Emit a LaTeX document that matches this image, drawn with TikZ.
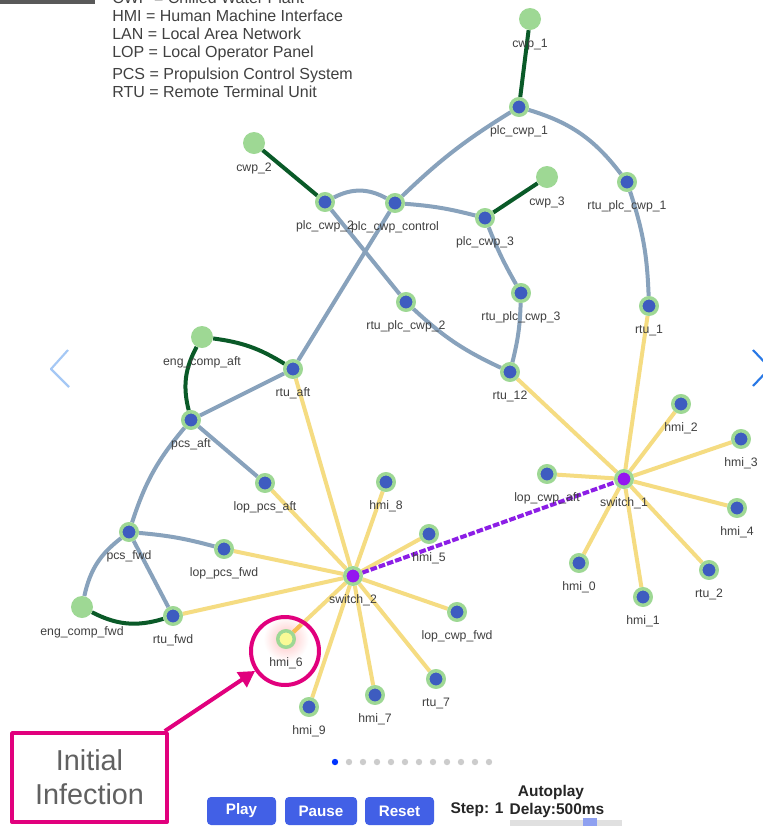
\documentclass[tikz,border=0pt]{standalone}
\usepackage{fontspec}
\setmainfont{Liberation Sans}
\usepackage{tikz}
\usetikzlibrary{arrows.meta,backgrounds}
\definecolor{ringgreen}{RGB}{158,216,148}
\definecolor{devblue}{RGB}{62,92,192}
\definecolor{switchcolor}{RGB}{148,22,240}
\definecolor{linkcolor}{RGB}{136,162,188}
\definecolor{plantcolor}{RGB}{10,90,40}
\definecolor{lancolor}{RGB}{245,220,130}
\definecolor{wancolor}{RGB}{140,30,230}
\definecolor{markcolor}{RGB}{225,0,125}
\definecolor{textgray}{RGB}{64,64,64}
\definecolor{btncolor}{RGB}{66,96,230}
\definecolor{prevcolor}{RGB}{165,200,245}
\definecolor{nextcolor}{RGB}{40,120,230}

\begin{document}
\begin{tikzpicture}[x=0.75pt,y=-0.75pt,line join=round,
                    every label/.style={font=\fontsize{9.2}{10}\selectfont,text=textgray,
                                        inner sep=0pt,text height=13pt,text depth=2pt}]
  \tikzstyle{dev}=[circle,inner sep=0pt,minimum size=12.4pt,line width=2.6pt,
                   draw=ringgreen,fill=devblue]
  \tikzstyle{switch}=[dev,fill=switchcolor]
  \tikzstyle{infected}=[dev,fill={rgb,255:red,250;green,250;blue,150}]
  \tikzstyle{plant}=[circle,inner sep=0pt,minimum size=16.5pt,fill=ringgreen]
  \tikzstyle{link}=[draw=linkcolor,line width=3pt]
  \tikzstyle{pipe}=[draw=plantcolor,line width=3pt]
  \tikzstyle{lan}=[draw=lancolor,line width=3pt]
  \tikzstyle{legend}=[anchor=base west,inner sep=0pt,font=\fontsize{12}{14}\selectfont,text=textgray]
  \tikzstyle{button}=[fill=btncolor,rounded corners=3pt,text=white,inner sep=0pt,
                      font=\bfseries\fontsize{11.4}{13}\selectfont,minimum height=21pt]
  \tikzstyle{ctrl}=[inner sep=0pt,font=\bfseries\fontsize{11.6}{13}\selectfont,text=black!85]

  \useasboundingbox (0,0) rectangle (763,826);
  \clip (0,0) rectangle (763,826);

  % abbreviations
  \fill[black!65] (0,0) rectangle (95,3.5);
  \node[legend] (leg_cwp) at (112,3)  {CWP = Chilled Water Plant};
  \node[legend] (leg_hmi) at (112,21) {HMI = Human Machine Interface};
  \node[legend] (leg_lan) at (112,39) {LAN = Local Area Network};
  \node[legend] (leg_lop) at (112,57) {LOP = Local Operator Panel};
  \node[legend] (leg_pcs) at (112,79) {PCS = Propulsion Control System};
  \node[legend] (leg_rtu) at (112,97) {RTU = Remote Terminal Unit};

  % plant
  \node[plant,label=below:cwp\_1]        (cwp_1)        at (530,19)  {};
  \node[plant,label=below:cwp\_2]        (cwp_2)        at (254,143) {};
  \node[plant,label=below:cwp\_3]        (cwp_3)        at (547,177) {};
  \node[plant,label=below:eng\_comp\_aft] (eng_comp_aft) at (202,337) {};
  \node[plant,label=below:eng\_comp\_fwd] (eng_comp_fwd) at (82,607)  {};

  % controllers
  \node[dev,label=below:plc\_cwp\_1]       (plc_cwp_1)       at (519,107) {};
  \node[dev,label=below:plc\_cwp\_2]       (plc_cwp_2)       at (325,202) {};
  \node[dev,label=below:plc\_cwp\_control] (plc_cwp_control) at (395,203) {};
  \node[dev,label=below:plc\_cwp\_3]       (plc_cwp_3)       at (485,218) {};
  \node[dev,label=below:rtu\_plc\_cwp\_1]  (rtu_plc_cwp_1)   at (627,182) {};
  \node[dev,label=below:rtu\_plc\_cwp\_2]  (rtu_plc_cwp_2)   at (406,302) {};
  \node[dev,label=below:rtu\_plc\_cwp\_3]  (rtu_plc_cwp_3)   at (521,293) {};
  \node[dev,label=below:rtu\_1]           (rtu_1)           at (649,306) {};
  \node[dev,label=below:rtu\_12]          (rtu_12)          at (510,372) {};
  \node[dev,label=below:rtu\_aft]         (rtu_aft)         at (293,369) {};
  \node[dev,label=below:pcs\_aft]         (pcs_aft)         at (191,420) {};
  \node[dev,label=below:lop\_pcs\_aft]    (lop_pcs_aft)     at (265,483) {};
  \node[dev,label=below:pcs\_fwd]         (pcs_fwd)         at (129,532) {};
  \node[dev,label=below:lop\_pcs\_fwd]    (lop_pcs_fwd)     at (224,549) {};
  \node[dev,label=below:rtu\_fwd]         (rtu_fwd)         at (173,616) {};

  % switch_2 side
  \node[switch,label=below:switch\_2]     (switch_2)        at (353,576) {};
  \node[dev,label=below:hmi\_8]           (hmi_8)           at (386,482) {};
  \node[dev,label=below:hmi\_5]           (hmi_5)           at (429,534) {};
  \node[dev,label=below:lop\_cwp\_fwd]    (lop_cwp_fwd)     at (457,612) {};
  \node[dev,label=below:rtu\_7]           (rtu_7)           at (436,679) {};
  \node[dev,label=below:hmi\_7]           (hmi_7)           at (375,695) {};
  \node[dev,label=below:hmi\_9]           (hmi_9)           at (309,707) {};
  \node[infected,label=below:hmi\_6]      (hmi_6)           at (286,639) {};

  % switch_1 side
  \node[switch,label=below:switch\_1]     (switch_1)        at (624,479) {};
  \node[dev,label=below:lop\_cwp\_aft]    (lop_cwp_aft)     at (547,474) {};
  \node[dev,label=below:hmi\_2]           (hmi_2)           at (681,404) {};
  \node[dev,label=below:hmi\_3]           (hmi_3)           at (741,439) {};
  \node[dev,label=below:hmi\_4]           (hmi_4)           at (737,508) {};
  \node[dev,label=below:rtu\_2]           (rtu_2)           at (709,570) {};
  \node[dev,label=below:hmi\_1]           (hmi_1)           at (643,597) {};
  \node[dev,label=below:hmi\_0]           (hmi_0)           at (579,563) {};

  \begin{scope}[on background layer]
    \fill[white] (0,0) rectangle (763,826);
    \shade[inner color=red!25,outer color=white] (hmi_6) circle (17pt);

    \path (cwp_1) edge[pipe] (plc_cwp_1)
          (cwp_2) edge[pipe] (plc_cwp_2)
          (cwp_3) edge[pipe] (plc_cwp_3)
          (eng_comp_aft) edge[pipe,bend left=12]  (rtu_aft)
          (eng_comp_aft) edge[pipe,bend right=21] (pcs_aft)
          (eng_comp_fwd) edge[pipe,bend right=22] (rtu_fwd);

    \path (plc_cwp_1) edge[link,bend left=18] (rtu_plc_cwp_1)
          (rtu_plc_cwp_1) edge[link,bend left=8] (rtu_1)
          (plc_cwp_1) edge[link,bend right=6] (plc_cwp_control)
          (plc_cwp_control) edge[link] (rtu_aft)
          (plc_cwp_2) edge[link,bend left=28] (plc_cwp_control)
          (plc_cwp_control) edge[link,bend left=5] (plc_cwp_3)
          (plc_cwp_2) edge[link] (rtu_plc_cwp_2)
          (rtu_plc_cwp_2) edge[link,bend right=9] (rtu_12)
          (plc_cwp_3) edge[link,bend right=4] (rtu_plc_cwp_3)
          (rtu_plc_cwp_3) edge[link,bend left=6] (rtu_12)
          (rtu_aft) edge[link] (pcs_aft)
          (pcs_aft) edge[link] (lop_pcs_aft)
          (pcs_aft) edge[link,bend right=11] (pcs_fwd)
          (pcs_fwd) edge[link,bend right=20] (eng_comp_fwd)
          (pcs_fwd) edge[link] (rtu_fwd)
          (pcs_fwd) edge[link,bend left=5] (lop_pcs_fwd);

    \foreach \dev in {rtu_aft,lop_pcs_aft,hmi_8,hmi_5,lop_pcs_fwd,rtu_fwd,hmi_6,hmi_9,hmi_7,rtu_7,lop_cwp_fwd}
      \path (switch_2) edge[lan] (\dev);
    \foreach \dev in {rtu_1,rtu_12,lop_cwp_aft,hmi_2,hmi_3,hmi_4,rtu_2,hmi_1,hmi_0}
      \path (switch_1) edge[lan] (\dev);
    \path (hmi_6) edge[draw=orange!35!lancolor,line width=3pt,shorten >=46pt] (switch_2);

    \path (switch_2) edge[draw=wancolor,line width=3pt,dash pattern=on 5pt off 1.5pt] (switch_1);
  \end{scope}

  % initial infection
  \node[circle,draw=markcolor,line width=3pt,minimum size=51pt] (ring) at (285,651) {};
  \node[draw=markcolor,line width=3pt,minimum width=116pt,minimum height=66.7pt,align=center,
        font=\fontsize{21.6}{25.5}\selectfont,text=black!62] (callout) at (89.5,777.5) {Initial\\Infection};
  \draw[markcolor,line width=3pt,-{Triangle[length=12pt,width=13pt]}] ([xshift=-3pt]callout.north east) -- (ring);

  % carousel
  \draw[line width=1.6pt,prevcolor] (68,350) -- (51,369) -- (69,387);
  \draw[line width=1.6pt,nextcolor] (753,350) -- (770,368) -- (753,386);
  \fill[blue!80!cyan] (335,762) circle (2.4pt);
  \foreach \i in {1,...,11}
    \fill[black!20] (335+14*\i,762) circle (2.4pt);

  % controls
  \node[button,minimum width=51.75pt] (play)  at (241.5,811) {Play};
  \node[button,minimum width=54pt]    (pause) at (321,811)   {Pause};
  \node[button,minimum width=51.75pt] (reset) at (399.5,811) {Reset};
  \node[ctrl] (step)     at (477,810) {Step: 1};
  \node[ctrl] (autoplay) at (551,792) {Autoplay};
  \node[ctrl] (delay)    at (557,810) {Delay:500ms};
  \fill[black!12] (510,820) rectangle (622,826);
  \fill[btncolor!60] (583,818) rectangle (597,826);
\end{tikzpicture}
\end{document}
